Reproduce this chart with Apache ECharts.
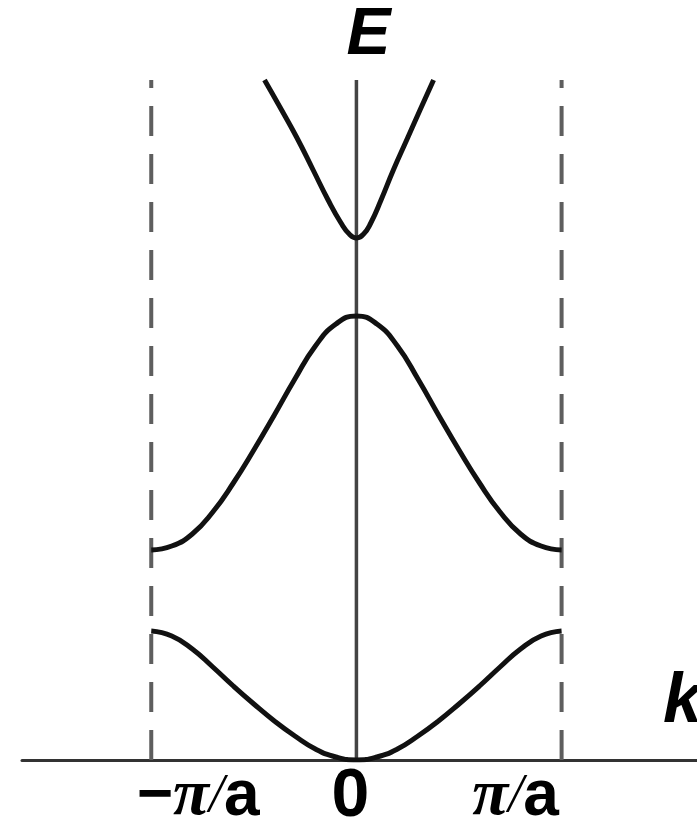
<!DOCTYPE html>
<html>
<head>
<meta charset="utf-8">
<title>Band structure</title>
<script src="https://cdn.jsdelivr.net/npm/echarts@6/dist/echarts.min.js"></script>
<style>
  html, body { margin: 0; padding: 0; background: #ffffff; }
  #chart { width: 697px; height: 825px; }
</style>
</head>
<body>
<div id="chart"></div>
<script>
// Wave vector k in units of pi/a, energy E in arbitrary units.
const kRange = [-1.63, 1.66];
const eRange = [0, 6.8];

// Lowest band, across the first Brillouin zone
const kBand1 = [-1, -0.9, -0.8, -0.7, -0.6, -0.5, -0.4, -0.3, -0.2, -0.1, 0, 0.1, 0.2, 0.3, 0.4, 0.5, 0.6, 0.7, 0.8, 0.9, 1];
const eBand1 = [1.29, 1.24, 1.11, 0.93, 0.74, 0.56, 0.39, 0.24, 0.11, 0.03, 0, 0.03, 0.11, 0.24, 0.39, 0.56, 0.74, 0.93, 1.11, 1.24, 1.29];

// Second band
const kBand2 = [-1, -0.9, -0.8, -0.7, -0.6, -0.5, -0.4, -0.3, -0.2, -0.1, 0, 0.1, 0.2, 0.3, 0.4, 0.5, 0.6, 0.7, 0.8, 0.9, 1];
const eBand2 = [2.10, 2.14, 2.26, 2.48, 2.77, 3.10, 3.45, 3.81, 4.14, 4.36, 4.44, 4.36, 4.14, 3.81, 3.45, 3.10, 2.77, 2.48, 2.26, 2.14, 2.10];

// Third band (runs off the top)
const kBand3 = [-0.448, -0.373, -0.292, -0.211, -0.138, -0.075, -0.035, 0, 0.035, 0.07, 0.12, 0.18, 0.245, 0.31, 0.376];
const eBand3 = [6.80, 6.53, 6.23, 5.90, 5.60, 5.37, 5.26, 5.22, 5.26, 5.37, 5.60, 5.90, 6.20, 6.50, 6.80];

// Zone boundaries
const zoneEdges = [-1, 1];

// Tick marks on the k axis and their labels
const tickValues = [-1, 0, 1];
const tickLabels = ['−π/a', '0', 'π/a'];

const axisNameE = 'E';
const axisNameK = 'k';

const zip = (xs, ys) => xs.map((x, i) => [x, ys[i]]);

const bandStyle = { color: '#111111', width: 5 };

const chart = echarts.init(document.getElementById('chart'), null, { renderer: 'canvas' });

const series = [];
zoneEdges.forEach(k => {
  series.push({
    type: 'line',
    data: [[k, eRange[0]], [k, eRange[1]]],
    symbol: 'none',
    silent: true,
    lineStyle: { color: '#5e5e5e', width: 4, type: [30, 18] },
    z: 1
  });
});
series.push({
  type: 'line',
  data: [[0, eRange[0]], [0, eRange[1]]],
  symbol: 'none',
  silent: true,
  lineStyle: { color: '#444444', width: 3.5 },
  z: 1
});
[[kBand1, eBand1], [kBand2, eBand2], [kBand3, eBand3]].forEach(([ks, es]) => {
  series.push({
    type: 'line',
    data: zip(ks, es),
    smooth: 0.5,
    symbol: 'none',
    silent: true,
    clip: true,
    lineStyle: bandStyle,
    z: 3
  });
});

chart.setOption({
  animation: false,
  backgroundColor: '#ffffff',
  grid: { left: 22, right: 0, top: 80, bottom: 65 },
  xAxis: {
    type: 'value',
    min: kRange[0],
    max: kRange[1],
    axisLine: { show: true, onZero: true, lineStyle: { color: '#333333', width: 3 } },
    axisTick: { show: false },
    axisLabel: { show: false },
    splitLine: { show: false }
  },
  yAxis: {
    type: 'value',
    min: eRange[0],
    max: eRange[1],
    axisLine: { show: false },
    axisTick: { show: false },
    axisLabel: { show: false },
    splitLine: { show: false }
  },
  series: series
});

// Text placed through the chart's own coordinate conversion
const px = (k, e) => chart.convertToPixel({ gridIndex: 0 }, [k, e]);
const sans = '"Liberation Sans", Arial, sans-serif';
const serif = '"Liberation Serif", "Times New Roman", serif';
const labelShift = [47, -6, -46];

const texts = [];
const topPt = px(0, eRange[1]);
texts.push({
  type: 'text', x: topPt[0] + 12, y: topPt[1] - 44,
  style: { text: axisNameE, font: 'italic bold 66px ' + sans, fill: '#000', align: 'center', verticalAlign: 'middle' }
});
const rightPt = px(kRange[1], 0);
texts.push({
  type: 'text', x: rightPt[0] - 34, y: rightPt[1] - 57,
  style: { text: axisNameK, font: 'italic bold 70px ' + sans, fill: '#000', align: 'left', verticalAlign: 'middle' }
});
tickValues.forEach((k, i) => {
  const p = px(k, 0);
  const label = tickLabels[i];
  let style;
  if (label.indexOf('π') >= 0) {
    const parts = label.split('π');
    style = {
      text: (parts[0] ? '{m|' + parts[0] + '}' : '') + '{p|π}{s|/}{a|' + parts[1].replace('/', '') + '}',
      align: 'center', verticalAlign: 'middle',
      rich: {
        m: { font: 'bold 62px ' + sans, fill: '#000' },
        p: { font: 'italic bold 66px ' + serif, fill: '#000' },
        s: { font: 'italic 54px ' + serif, fill: '#000' },
        a: { font: 'bold 64px ' + sans, fill: '#000' }
      }
    };
  } else {
    style = { text: label, font: 'bold 68px ' + sans, fill: '#000', align: 'center', verticalAlign: 'middle' };
  }
  texts.push({ type: 'text', x: p[0] + labelShift[i], y: p[1] + 37, style: style });
});

chart.setOption({ graphic: texts });
</script>
</body>
</html>
